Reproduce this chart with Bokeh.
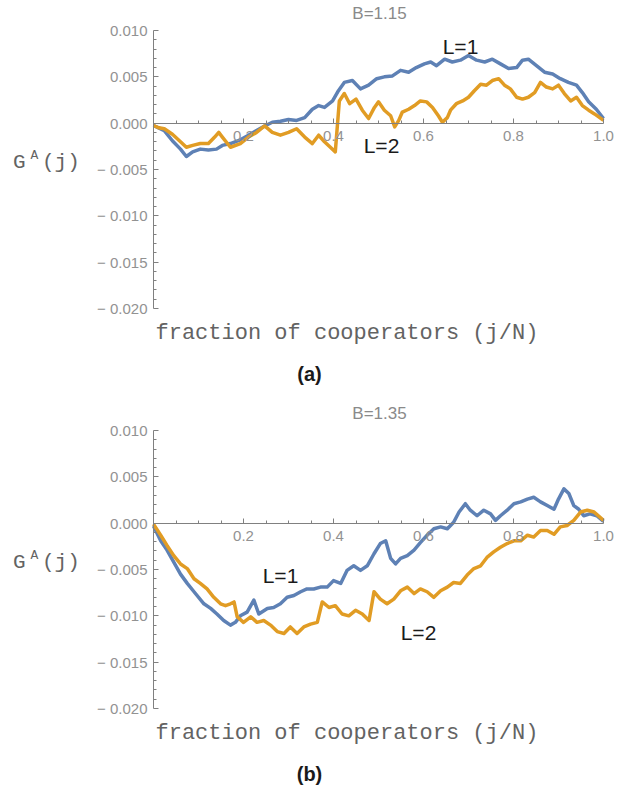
import numpy as np
from bokeh.plotting import figure
from bokeh.models import Range1d, LinearAxis, FixedTicker, CustomJSTickFormatter, Label, Grid
from bokeh.layouts import column
from bokeh.embed import file_html
from bokeh.resources import INLINE

# values of G^A(j) in units of 1e-3
UNIT = 1e-3

# ---- panel (a): B = 1.15 ----
a_l1_x = [0.0, 0.024, 0.042, 0.06, 0.073, 0.087, 0.104, 0.122, 0.14, 0.153, 0.171, 0.193, 0.211,
          0.229, 0.247, 0.264, 0.282, 0.3, 0.318, 0.336, 0.353, 0.367, 0.38, 0.398, 0.411, 0.424,
          0.442, 0.46, 0.478, 0.496, 0.513, 0.531, 0.549, 0.567, 0.584, 0.602, 0.616, 0.629, 0.647,
          0.664, 0.682, 0.7, 0.718, 0.736, 0.753, 0.771, 0.789, 0.807, 0.82, 0.833, 0.851, 0.869,
          0.887, 0.904, 0.922, 0.94, 0.953, 0.967, 0.984, 1.0]
a_l1_y = [-0.25, -0.8, -1.9, -2.8, -3.6, -3.1, -2.8, -2.9, -2.8, -2.4, -2.2, -1.8, -1.3,
          -0.8, -0.3, 0.1, 0.2, 0.4, 0.3, 0.6, 1.5, 1.9, 1.7, 2.4, 3.5, 4.4,
          4.6, 3.7, 4.1, 4.8, 5.0, 5.1, 5.7, 5.5, 6.0, 6.4, 6.6, 6.2, 6.9,
          6.6, 6.8, 7.3, 6.8, 6.6, 6.9, 6.4, 5.9, 6.0, 6.8, 6.9, 6.2, 5.5,
          5.3, 4.8, 4.4, 4.1, 3.3, 2.3, 1.5, 0.5]
a_l2_x = [0.0, 0.012, 0.024, 0.042, 0.06, 0.073, 0.087, 0.104, 0.122, 0.136, 0.145, 0.153, 0.171,
          0.193, 0.211, 0.229, 0.247, 0.264, 0.282, 0.3, 0.318, 0.336, 0.353, 0.367, 0.38, 0.393,
          0.404, 0.413, 0.424, 0.436, 0.45, 0.464, 0.478, 0.491, 0.5, 0.513, 0.527, 0.536, 0.545,
          0.553, 0.567, 0.58, 0.593, 0.607, 0.62, 0.633, 0.642, 0.653, 0.66, 0.673, 0.687, 0.7,
          0.713, 0.727, 0.74, 0.753, 0.767, 0.78, 0.793, 0.807, 0.82, 0.833, 0.847, 0.86, 0.873,
          0.887, 0.9, 0.913, 0.927, 0.94, 0.953, 0.967, 0.98, 1.0]
a_l2_y = [-0.25, -0.5, -0.6, -1.2, -2.0, -2.6, -2.4, -2.2, -2.2, -1.5, -1.0, -1.5, -2.6,
          -2.2, -1.5, -1.0, -0.3, -1.0, -1.3, -1.0, -0.6, -1.5, -2.2, -1.3, -2.0, -2.6,
          -3.1, 2.4, 3.2, 2.1, 2.6, 1.4, 0.5, 1.7, 2.3, 1.4, 0.8, -0.4, 0.3,
          1.2, 1.5, 1.9, 2.4, 2.3, 1.7, 0.8, 0.1, 0.6, 1.4, 2.1, 2.4, 2.8,
          3.5, 4.2, 4.1, 4.6, 4.8, 4.1, 3.7, 2.8, 2.6, 2.8, 3.3, 4.4, 3.9,
          3.7, 4.1, 3.2, 2.4, 2.8, 1.9, 1.4, 1.0, 0.3]

# ---- panel (b): B = 1.35 ----
b_l1_x = [0.0, 0.016, 0.03, 0.045, 0.06, 0.075, 0.09, 0.112, 0.127, 0.141, 0.156, 0.171, 0.182,
          0.193, 0.208, 0.223, 0.234, 0.253, 0.267, 0.282, 0.297, 0.312, 0.327, 0.341, 0.356,
          0.371, 0.386, 0.4, 0.416, 0.43, 0.445, 0.46, 0.475, 0.49, 0.504, 0.516, 0.527, 0.538,
          0.549, 0.564, 0.579, 0.593, 0.608, 0.623, 0.638, 0.653, 0.667, 0.679, 0.693, 0.704,
          0.719, 0.734, 0.749, 0.76, 0.771, 0.786, 0.801, 0.816, 0.831, 0.845, 0.86, 0.875,
          0.89, 0.9, 0.912, 0.923, 0.934, 0.945, 0.956, 0.97, 0.985, 1.0]
b_l1_y = [-0.3, -1.9, -2.9, -4.2, -5.5, -6.5, -7.4, -8.7, -9.2, -9.8, -10.5, -11.0, -10.7,
          -10.0, -9.6, -8.3, -9.8, -9.2, -9.1, -8.7, -8.0, -7.8, -7.4, -7.1, -7.1,
          -6.9, -6.9, -6.2, -6.5, -5.1, -4.6, -5.1, -4.6, -3.3, -2.2, -1.9, -3.8, -4.4,
          -3.8, -3.5, -2.9, -2.1, -1.3, -0.6, -0.4, -0.6, 0.1, 1.2, 2.1, 1.4,
          0.8, 1.4, 1.0, 0.3, 0.8, 1.4, 2.1, 2.3, 2.6, 2.8, 2.3, 1.9,
          1.5, 2.6, 3.7, 3.2, 1.9, 1.5, 0.8, 1.0, 0.8, 0.2]
b_l2_x = [0.0, 0.016, 0.03, 0.045, 0.06, 0.075, 0.09, 0.104, 0.119, 0.134, 0.149, 0.16, 0.171,
          0.179, 0.186, 0.2, 0.216, 0.23, 0.245, 0.26, 0.275, 0.29, 0.304, 0.319, 0.334, 0.349,
          0.364, 0.375, 0.39, 0.404, 0.419, 0.434, 0.449, 0.464, 0.479, 0.49, 0.504, 0.519,
          0.534, 0.549, 0.564, 0.579, 0.593, 0.608, 0.623, 0.638, 0.653, 0.667, 0.682, 0.697,
          0.712, 0.727, 0.741, 0.756, 0.771, 0.786, 0.801, 0.816, 0.831, 0.845, 0.86, 0.875,
          0.89, 0.904, 0.919, 0.934, 0.949, 0.964, 0.979, 1.0]
b_l2_y = [-0.1, -1.3, -2.4, -3.5, -4.4, -4.9, -6.0, -6.5, -7.1, -8.0, -8.7, -8.9, -8.7,
          -8.5, -10.1, -10.7, -10.1, -10.7, -10.5, -11.0, -11.7, -11.9, -11.2, -11.9, -11.2, -10.9,
          -10.7, -8.5, -9.1, -8.9, -9.8, -10.0, -9.4, -9.8, -10.5, -7.4, -8.2, -8.7,
          -8.2, -7.3, -6.9, -7.6, -7.1, -7.4, -8.0, -7.3, -6.9, -6.4, -6.5, -5.6,
          -4.9, -4.6, -3.7, -3.1, -2.6, -2.2, -1.9, -1.9, -1.3, -1.5, -0.8, -0.8,
          -1.2, -0.4, -0.25, 0.3, 1.2, 1.4, 1.2, 0.3]

x_major = [0.2, 0.4, 0.6, 0.8, 1.0]
x_minor = [round(0.05 * k, 2) for k in range(1, 20) if k % 4 != 0]
y_major = [-0.02, -0.015, -0.01, -0.005, 0.0, 0.005, 0.01]
y_minor = [round(0.001 * k, 4) for k in range(-20, 11) if k % 5 != 0]

BLUE = "#5E81B5"
ORANGE = "#E19C24"
AXIS = "#808080"
TICKLAB = "#929292"
W = 627
PX_PER_UNIT_X = 450.0
X0_PX = 153.0
PX_PER_UNIT_Y = 9266.7
Y0_PX = 122.67


def make_panel(height, title, tag, l1x, l1y, l2x, l2y, pos1, pos2):
    xr = Range1d(-X0_PX / PX_PER_UNIT_X, (W - X0_PX) / PX_PER_UNIT_X)
    yr = Range1d(-(height - Y0_PX) / PX_PER_UNIT_Y, Y0_PX / PX_PER_UNIT_Y)
    p = figure(width=W, height=height, x_range=xr, y_range=yr,
               x_axis_location=None, y_axis_location=None,
               toolbar_location=None, output_backend="svg", min_border=0)
    p.outline_line_color = None
    p.background_fill_color = "white"
    p.border_fill_color = "white"
    for r in list(p.center):
        if isinstance(r, Grid):
            r.visible = False
            r.grid_line_color = None

    yax = LinearAxis(fixed_location=0, bounds=(-0.02, 0.01),
                     ticker=FixedTicker(ticks=y_major, minor_ticks=y_minor),
                     formatter=CustomJSTickFormatter(code="""
                        if (Math.abs(tick) < 1e-12) return "0.000";
                        return tick < 0 ? "\u2212 " + (-tick).toFixed(3) : tick.toFixed(3);"""))
    yax.axis_line_color = AXIS
    yax.major_tick_line_color = AXIS
    yax.minor_tick_line_color = AXIS
    yax.major_tick_in = 5
    yax.major_tick_out = 0
    yax.minor_tick_in = 3
    yax.minor_tick_out = 0
    yax.major_label_standoff = 6
    yax.major_label_text_font = "Liberation Sans"
    yax.major_label_text_font_size = "15px"
    yax.major_label_text_color = TICKLAB
    p.add_layout(yax, "left")

    xax = LinearAxis(fixed_location=0, bounds=(0, 1),
                     ticker=FixedTicker(ticks=x_major, minor_ticks=x_minor),
                     formatter=CustomJSTickFormatter(code="return tick.toFixed(1);"))
    xax.axis_line_color = AXIS
    xax.major_tick_line_color = AXIS
    xax.minor_tick_line_color = AXIS
    xax.major_tick_in = 5
    xax.major_tick_out = 0
    xax.minor_tick_in = 3
    xax.minor_tick_out = 0
    xax.major_label_standoff = 8
    xax.major_label_text_font = "Liberation Sans"
    xax.major_label_text_font_size = "15px"
    xax.major_label_text_color = TICKLAB
    p.add_layout(xax, "below")

    p.line(l1x, np.array(l1y) * UNIT, line_color=BLUE, line_width=3.5, line_join="round")
    p.line(l2x, np.array(l2y) * UNIT, line_color=ORANGE, line_width=3.5, line_join="round")

    def lab(text, x, ytop, size, font="Liberation Sans", color="#1a1a1a", align="center",
            style="normal"):
        p.add_layout(Label(x=x, y=height - ytop, x_units="screen", y_units="screen", text=text,
                           text_font=font, text_font_size=size, text_color=color,
                           text_align=align, text_baseline="middle", text_font_style=style))

    lab(title, 379, 13, "17px", color="#8a8a8a")
    lab("L=1", pos1[0], pos1[1], "21px")
    lab("L=2", pos2[0], pos2[1], "21px")
    lab("fraction of cooperators (j/N)", 155, 333, "22px", font="Liberation Mono",
        color="#636363", align="left")
    lab("G", 12.5, 162, "21px", font="Liberation Mono", color="#636363", align="left")
    lab("A", 30, 155, "13px", font="Liberation Mono", color="#636363", align="left")
    lab("(j)", 41.5, 162, "21px", font="Liberation Mono", color="#636363", align="left")
    lab(tag, 309, 373, "20px", style="bold")
    return p


pa = make_panel(400, "B=1.15", "(a)", a_l1_x, a_l1_y, a_l2_x, a_l2_y, (460, 46), (381, 145))
pb = make_panel(391, "B=1.35", "(b)", b_l1_x, b_l1_y, b_l2_x, b_l2_y, (280, 175), (418, 232))

layout = column(pa, pb, spacing=0)
open("out.html", "w").write(file_html(layout, INLINE))
